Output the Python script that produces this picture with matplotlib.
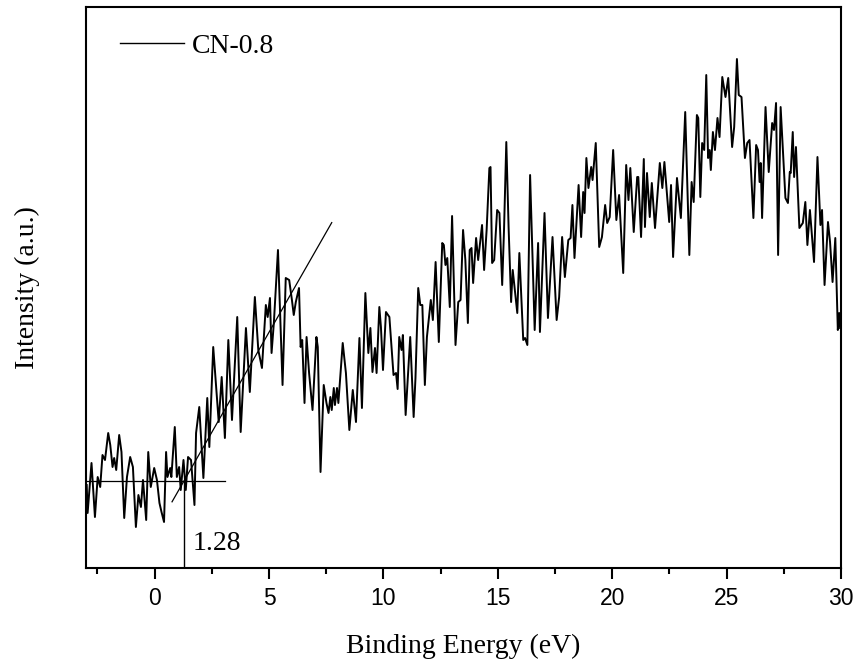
import matplotlib
matplotlib.use("Agg")
import matplotlib.pyplot as plt

# Binding energy (eV) and intensity (a.u.)
energy = [-2.97, -2.93, -2.76, -2.61, -2.49, -2.38, -2.28, -2.17, -2.03, -1.94,
          -1.84, -1.77, -1.68, -1.55, -1.45, -1.33, -1.21, -1.07, -0.95, -0.82,
          -0.71, -0.60, -0.51, -0.37, -0.28, -0.17, -0.02, 0.10, 0.21, 0.30,
          0.41, 0.50, 0.56, 0.68, 0.73, 0.88, 0.97, 1.07, 1.14, 1.26,
          1.36, 1.46, 1.59, 1.74, 1.81, 1.95, 2.13, 2.30, 2.39, 2.56,
          2.68, 2.80, 2.93, 3.07, 3.22, 3.38, 3.61, 3.76, 3.99, 4.16,
          4.38, 4.53, 4.69, 4.86, 4.94, 5.04, 5.11, 5.21, 5.39, 5.59,
          5.73, 5.88, 6.00, 6.08, 6.17, 6.31, 6.38, 6.45, 6.55, 6.64,
          6.75, 6.90, 7.07, 7.13, 7.25, 7.39, 7.51, 7.60, 7.68, 7.74,
          7.83, 7.88, 7.97, 8.03, 8.22, 8.36, 8.51, 8.66, 8.80, 8.95,
          9.06, 9.21, 9.34, 9.43, 9.52, 9.63, 9.70, 9.82, 9.89, 9.98,
          10.11, 10.26, 10.44, 10.55, 10.62, 10.69, 10.79, 10.85, 10.97, 11.17,
          11.32, 11.40, 11.52, 11.61, 11.70, 11.81, 11.90, 12.07, 12.16, 12.28,
          12.42, 12.57, 12.64, 12.71, 12.79, 12.90, 13.00, 13.15, 13.27, 13.37,
          13.48, 13.58, 13.69, 13.77, 13.85, 13.92, 14.05, 14.14, 14.31, 14.40,
          14.51, 14.63, 14.68, 14.75, 14.84, 14.97, 15.07, 15.19, 15.27, 15.37,
          15.47, 15.58, 15.65, 15.85, 15.94, 16.11, 16.19, 16.29, 16.41, 16.61,
          16.76, 16.84, 17.04, 17.19, 17.39, 17.57, 17.68, 17.81, 17.93, 18.08,
          18.18, 18.26, 18.35, 18.53, 18.64, 18.73, 18.79, 18.87, 18.96, 19.08,
          19.14, 19.28, 19.43, 19.55, 19.69, 19.78, 19.89, 20.04, 20.18, 20.30,
          20.48, 20.61, 20.71, 20.79, 20.94, 21.09, 21.14, 21.26, 21.38, 21.43,
          21.52, 21.64, 21.73, 21.87, 22.08, 22.19, 22.28, 22.49, 22.57, 22.66,
          22.83, 23.00, 23.19, 23.37, 23.47, 23.56, 23.70, 23.76, 23.85, 23.93,
          24.02, 24.11, 24.19, 24.26, 24.31, 24.40, 24.49, 24.60, 24.69, 24.81,
          24.95, 25.07, 25.24, 25.33, 25.45, 25.53, 25.65, 25.80, 25.90, 26.00,
          26.17, 26.29, 26.37, 26.44, 26.49, 26.55, 26.70, 26.84, 26.99, 27.07,
          27.16, 27.25, 27.36, 27.57, 27.68, 27.76, 27.80, 27.89, 27.95, 28.03,
          28.18, 28.33, 28.44, 28.53, 28.64, 28.82, 28.97, 29.10, 29.17, 29.28,
          29.43, 29.52, 29.63, 29.75, 29.86, 29.92, 29.96]

intensity = [83, 55, 105, 51, 91, 81, 113, 108, 135, 123,
             101, 110, 98, 133, 116, 50, 91, 111, 101, 41,
             73, 61, 88, 48, 116, 81, 100, 88, 65, 56,
             46, 116, 91, 100, 91, 141, 91, 101, 78, 108,
             78, 111, 108, 63, 135, 161, 90, 170, 121, 221,
             183, 146, 191, 130, 228, 148, 251, 136, 240, 176,
             271, 218, 200, 263, 251, 270, 215, 245, 318, 183,
             290, 288, 268, 253, 266, 280, 221, 228, 165, 231,
             195, 158, 231, 221, 96, 183, 165, 155, 171, 158,
             180, 163, 180, 165, 225, 195, 138, 178, 146, 230,
             160, 275, 215, 240, 196, 220, 195, 261, 241, 198,
             256, 251, 193, 195, 179, 231, 218, 233, 153, 231,
             151, 190, 280, 263, 263, 183, 231, 268, 248, 306,
             226, 325, 323, 303, 310, 261, 352, 223, 266, 268,
             338, 308, 245, 318, 320, 285, 330, 308, 343, 298,
             338, 400, 401, 305, 308, 358, 355, 283, 338, 426,
             341, 266, 298, 255, 315, 228, 230, 223, 393, 238,
             325, 236, 355, 250, 331, 248, 271, 331, 291, 328,
             330, 363, 310, 383, 331, 376, 355, 410, 380, 401,
             388, 425, 321, 331, 363, 345, 351, 418, 348, 373,
             295, 403, 368, 400, 336, 391, 391, 331, 409, 341,
             395, 351, 385, 340, 405, 380, 406, 346, 383, 311,
             390, 350, 456, 313, 386, 366, 453, 450, 371, 425,
             418, 493, 410, 418, 398, 436, 418, 450, 431, 491,
             471, 490, 421, 441, 509, 473, 471, 410, 425, 428,
             350, 423, 418, 386, 405, 350, 461, 396, 445, 438,
             465, 313, 461, 370, 365, 396, 395, 436, 391, 421,
             340, 345, 366, 323, 358, 306, 411, 343, 358, 283,
             346, 326, 286, 330, 238, 255, 240]

series_label = "CN-0.8"
onset = 1.28            # valence band edge (eV)
baseline_level = 87     # flat background level
tangent_slope = 40      # slope of the leading-edge tangent (a.u./eV)
baseline_range = [-3.0, 3.07]
tangent_range = [0.76, 7.74]
x_ticks = [0, 5, 10, 15, 20, 25, 30]

serif = ["Liberation Serif", "DejaVu Serif"]
sans = ["Liberation Sans", "DejaVu Sans"]

fig = plt.figure(figsize=(8.61, 6.68), dpi=100)
ax = fig.add_axes([0.0999, 0.1497, 0.8769, 0.8398])

ax.plot(energy, intensity, color="black", lw=1.4, label=series_label)

# baseline
ax.plot(baseline_range, [baseline_level, baseline_level], color="black", lw=0.9)
# tangent line
t_y = [baseline_level + tangent_slope * (x - onset) for x in tangent_range]
ax.plot(tangent_range, t_y, color="black", lw=0.9)
# vertical drop to axis at onset
ax.plot([onset, onset], [0, baseline_level], color="black", lw=1.0)
ax.text(onset + 0.36, 25, f"{onset:.2f}", fontsize=20, family=serif,
        va="center", ha="left")

ax.set_xlim(-3, 30)
ax.set_ylim(0, 561)
ax.set_xticks(x_ticks)
ax.set_xticks([-2.5, 2.5, 7.5, 12.5, 17.5, 22.5, 27.5], minor=True)
ax.set_yticks([])
ax.tick_params(axis="x", which="major", direction="out", length=8, width=1.5,
               labelsize=16.5, pad=6)
ax.tick_params(axis="x", which="minor", direction="out", length=4.5, width=1.5)
for lab in ax.get_xticklabels():
    lab.set_family(sans)
for sp in ax.spines.values():
    sp.set_linewidth(1.5)

ax.set_xlabel("Binding Energy (eV)", fontsize=20, family=serif, labelpad=17)
ax.set_ylabel("Intensity (a.u.)", fontsize=20, family=serif, labelpad=33)

leg = ax.legend(loc="upper left", bbox_to_anchor=(0.012, 0.998), frameon=False,
                handlelength=2.3, handletextpad=0.3,
                prop={"family": serif, "size": 20})
for h in leg.get_lines():
    h.set_linewidth(1.0)

fig.savefig("out.png", dpi=100)
